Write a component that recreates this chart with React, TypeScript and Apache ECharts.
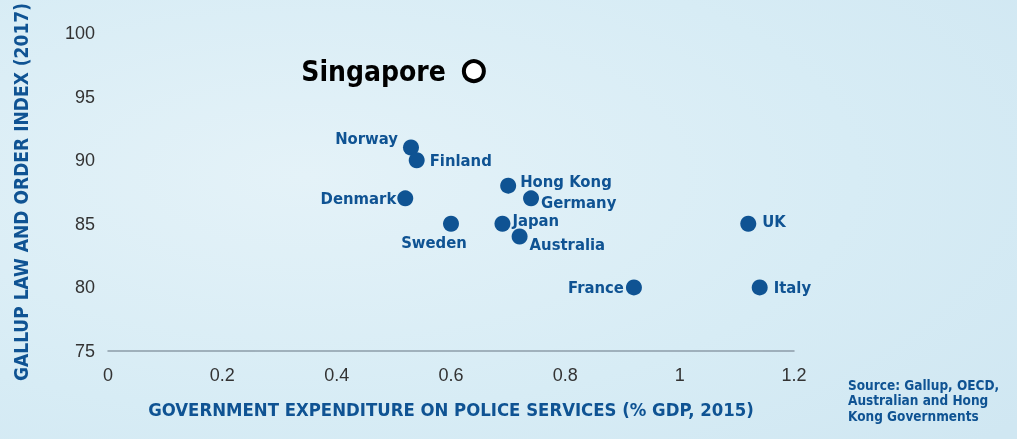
import React, { useEffect, useRef } from "react";
import * as echarts from "echarts";

const countries = ["Norway", "Finland", "Hong Kong", "Denmark", "Germany", "Sweden", "Japan", "Australia", "UK", "France", "Italy"];
const policeSpend = [0.53, 0.54, 0.70, 0.52, 0.74, 0.60, 0.69, 0.72, 1.12, 0.92, 1.14];
const lawOrderIndex = [91, 90, 88, 87, 87, 85, 85, 84, 85, 80, 80];
const singapore = { name: "Singapore", x: 0.64, y: 97 };
const xTicks = { min: 0, max: 1.2, interval: 0.2 };
const yTicks = { min: 75, max: 100, interval: 5 };

const labelPlacement: Record<string, any> = {
  Norway: { position: "left", distance: 5, offset: [0, -9] },
  Finland: { position: "right", distance: 5, offset: [0, 0] },
  "Hong Kong": { position: "right", distance: 4, offset: [0, -4] },
  Denmark: { position: "left", distance: 1, offset: [0, 0] },
  Germany: { position: "right", distance: 2, offset: [0, 4] },
  Sweden: { position: "bottom", distance: 2, offset: [-17, 0] },
  Japan: { position: "right", distance: 2, offset: [0, -3] },
  Australia: { position: "right", distance: 2, offset: [0, 8] },
  UK: { position: "right", distance: 6, offset: [0, -2] },
  France: { position: "left", distance: 2, offset: [0, 0] },
  Italy: { position: "right", distance: 6, offset: [0, 0] },
};

const BLUE = "#0f5393";
const COND = "'Liberation Sans Narrow', 'DejaVu Sans Condensed', sans-serif";

export default function App() {
  const ref = useRef<HTMLDivElement>(null);
  useEffect(() => {
    const chart = echarts.init(ref.current!, null, { renderer: "svg" });
    const data = countries.map((c, i) => ({
      name: c,
      value: [policeSpend[i], lawOrderIndex[i]],
      label: { ...labelPlacement[c] },
    }));
    chart.setOption({
      animation: false,
      backgroundColor: {
        type: "radial",
        x: 0.3,
        y: 0.4,
        r: 0.9,
        colorStops: [
          { offset: 0, color: "#e4f2f8" },
          { offset: 0.6, color: "#d7ecf5" },
          { offset: 1, color: "#d0e7f2" },
        ],
      },
      grid: { left: 108, right: 223, top: 30, bottom: 88 },
      xAxis: {
        type: "value",
        ...xTicks,
        name: "GOVERNMENT EXPENDITURE ON POLICE SERVICES (% GDP, 2015)",
        nameLocation: "middle",
        nameGap: 49,
        nameTextStyle: { color: BLUE, fontSize: 18.4, fontWeight: "bold", fontFamily: COND },
        axisLine: { show: true, lineStyle: { color: "#8c9ca8", width: 1.5 } },
        axisTick: { show: false },
        splitLine: { show: false },
        axisLabel: { color: "#333", fontSize: 18, margin: 15, fontFamily: "'Liberation Sans', Arial, sans-serif" },
      },
      yAxis: {
        type: "value",
        ...yTicks,
        name: "GALLUP LAW AND ORDER INDEX (2017)",
        nameLocation: "middle",
        nameRotate: 90,
        nameGap: 78,
        nameTextStyle: { color: BLUE, fontSize: 19, fontWeight: "bold", fontFamily: COND },
        axisLine: { show: false },
        axisTick: { show: false },
        splitLine: { show: false },
        axisLabel: { color: "#333", fontSize: 18, margin: 13, fontFamily: "'Liberation Sans', Arial, sans-serif" },
      },
      series: [
        {
          type: "scatter",
          symbolSize: 16,
          itemStyle: { color: BLUE, opacity: 1 },
          label: {
            show: true,
            formatter: "{b}",
            color: BLUE,
            fontSize: 16.5,
            fontWeight: "bold",
            fontFamily: COND,
          },
          data,
        },
        {
          type: "scatter",
          symbolSize: 20,
          itemStyle: { color: "#ffffff", borderColor: "#000000", borderWidth: 4, opacity: 1 },
          label: {
            show: true,
            position: "left",
            distance: 16,
            formatter: "{b}",
            color: "#000",
            fontSize: 28,
            fontWeight: "bold",
            fontFamily: COND,
          },
          data: [{ name: singapore.name, value: [singapore.x, singapore.y] }],
        },
      ],
      graphic: [
        {
          type: "text",
          left: 848,
          top: 377,
          style: {
            text: "Source: Gallup, OECD,\nAustralian and Hong\nKong Governments",
            fill: BLUE,
            font: `bold 13.5px ${COND}`,
            lineHeight: 15.5,
          },
        },
      ],
    });
    return () => chart.dispose();
  }, []);
  return <div ref={ref} style={{ position: "fixed", left: 0, top: 0, width: 1017, height: 439 }} />;
}
